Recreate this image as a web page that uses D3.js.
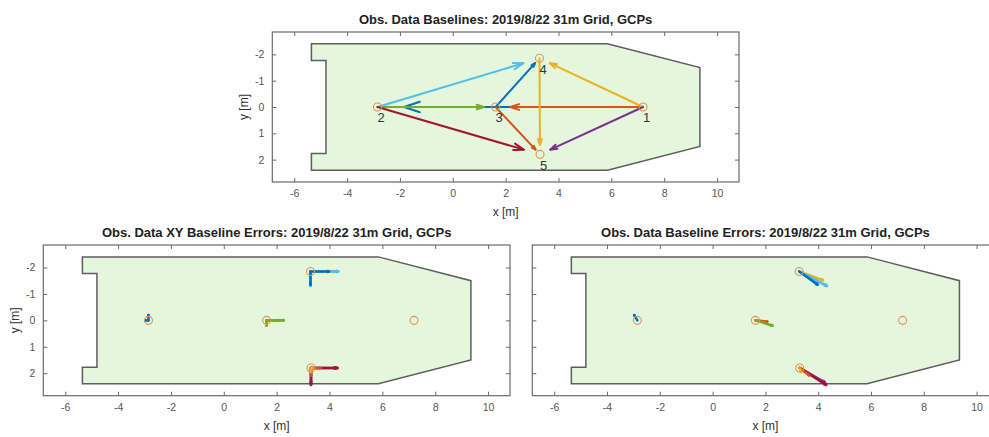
<!DOCTYPE html>
<html>
<head>
<meta charset="utf-8">
<script src="https://cdn.jsdelivr.net/npm/d3@7"></script>
<style>
  html, body { margin: 0; padding: 0; background: #fff; }
  svg { display: block; font-family: "Liberation Sans", Arial, sans-serif; }
</style>
</head>
<body>
<svg id="fig" width="989" height="437"></svg>
<script>
// Ground control points (metres)
const gcpIds = ["1", "2", "3", "4", "5"];
const gcpX = [7.2, -2.85, 1.62, 3.28, 3.3];
const gcpY = [0, 0, 0, -1.85, 1.8];

// Baselines between GCP pairs (1-based indices), drawn from -> to
const baseFrom = [1, 1, 1, 1, 2, 2, 2, 3, 3, 4];
const baseTo   = [2, 3, 4, 5, 3, 4, 5, 4, 5, 5];

// Baseline error vectors at the target GCP (plotted, metres)
const errX = [-0.12, 0.45, 0.9, 0.95, 0.65, 1.05, 1.0, 0.7, 0.35, 0.05];
const errY = [-0.2, 0.05, 0.33, 0.55, 0.2, 0.55, 0.64, 0.5, 0.28, 0.15];

// Survey grid outline
const gridX = [-5.35, 5.85, 9.35, 9.35, 5.85, -5.35, -5.35, -4.8, -4.8, -5.35, -5.35];
const gridY = [-2.4, -2.4, -1.5, 1.5, 2.4, 2.4, 1.77, 1.77, -1.77, -1.77, -2.4];

// Axis ticks
const xTicks = [-6, -4, -2, 0, 2, 4, 6, 8, 10];
const yTicks = [-2, -1, 0, 1, 2];

const titles = [
  "Obs. Data Baselines: 2019/8/22 31m Grid, GCPs",
  "Obs. Data XY Baseline Errors: 2019/8/22 31m Grid, GCPs",
  "Obs. Data Baseline Errors: 2019/8/22 31m Grid, GCPs"
];

const colorOrder = ["#0072BD", "#D95319", "#EDB120", "#7E2F8E", "#77AC30", "#4DBEEE", "#A2142F"];
const quiverScale = 0.9;

const svg = d3.select("#fig");

const panels = [
  { left: 272.3, right: 739, top: 32, bottom: 182, title: titles[0], yLabels: true, kind: "base" },
  { left: 43.3, right: 510, top: 245, bottom: 395.7, title: titles[1], yLabels: true, kind: "xy" },
  { left: 532.3, right: 998.5, top: 245, bottom: 395.7, title: titles[2], yLabels: false, kind: "err" }
];

function arrow(g, x, y, xs, ys, dx, dy, color, width) {
  const x1 = xs(x), y1 = ys(y), x2 = xs(x + dx), y2 = ys(y + dy);
  const vx = x2 - x1, vy = y2 - y1;
  const L = Math.hypot(vx, vy);
  if (L < 0.01) return;
  const a = 0.066, b = 0.33;
  const h1 = [x2 - a * (vx + b * vy), y2 - a * (vy - b * vx)];
  const h2 = [x2 - a * (vx - b * vy), y2 - a * (vy + b * vx)];
  g.append("line")
    .attr("x1", x1).attr("y1", y1).attr("x2", x2).attr("y2", y2)
    .attr("stroke", color).attr("stroke-width", width).attr("stroke-linecap", "round");
  g.append("path")
    .attr("d", `M${h1[0]},${h1[1]}L${x2},${y2}L${h2[0]},${h2[1]}`)
    .attr("fill", "none").attr("stroke", color).attr("stroke-width", width)
    .attr("stroke-linejoin", "round").attr("stroke-linecap", "round");
}

panels.forEach(p => {
  const xs = d3.scaleLinear().domain([-6.83, 10.83]).range([p.left, p.right]);
  const ys = d3.scaleLinear().domain([-2.85, 2.85]).range([p.top, p.bottom]);
  const g = svg.append("g");

  g.append("rect")
    .attr("x", p.left).attr("y", p.top)
    .attr("width", p.right - p.left).attr("height", p.bottom - p.top)
    .attr("fill", "#fff");

  // grid outline
  g.append("path")
    .attr("d", d3.line().x((d, i) => xs(gridX[i])).y((d, i) => ys(gridY[i]))(gridX) + "Z")
    .attr("fill", "#e4f6dc").attr("stroke", "#5e5e5e").attr("stroke-width", 1.5);

  const marks = g.append("g");
  if (p.kind === "base") {
    baseFrom.forEach((f, i) => {
      const t = baseTo[i];
      const x0 = gcpX[f - 1], y0 = gcpY[f - 1];
      const dx = (gcpX[t - 1] - x0) * quiverScale, dy = (gcpY[t - 1] - y0) * quiverScale;
      arrow(marks, x0, y0, xs, ys, dx, dy, colorOrder[i % 7], 2);
    });
  } else if (p.kind === "xy") {
    baseTo.forEach((t, i) => {
      const x0 = gcpX[t - 1], y0 = gcpY[t - 1];
      arrow(marks, x0, y0, xs, ys, errX[i], 0, colorOrder[i % 7], 2.6);
      arrow(marks, x0, y0, xs, ys, 0, errY[i], colorOrder[i % 7], 2.6);
    });
  } else {
    baseTo.forEach((t, i) => {
      const x0 = gcpX[t - 1], y0 = gcpY[t - 1];
      arrow(marks, x0, y0, xs, ys, errX[i], errY[i], colorOrder[i % 7], 2.6);
    });
  }

  // GCP markers
  g.append("g").selectAll("circle").data(gcpX).join("circle")
    .attr("cx", (d, i) => xs(gcpX[i])).attr("cy", (d, i) => ys(gcpY[i]))
    .attr("r", 4).attr("fill", "none").attr("stroke", "#e0915a").attr("stroke-width", 1.1);

  if (p.kind === "base") {
    g.append("g").selectAll("text").data(gcpIds).join("text")
      .attr("x", (d, i) => xs(gcpX[i])).attr("y", (d, i) => ys(gcpY[i] + 0.45))
      .attr("dominant-baseline", "middle")
      .attr("font-size", 13).attr("fill", "#333")
      .text(d => d);
  }

  // axes with inward ticks on all four sides
  const fmt = d => String(d);
  const axB = g.append("g").attr("transform", `translate(0,${p.bottom})`)
    .call(d3.axisBottom(xs).tickValues(xTicks).tickSizeInner(-4).tickSizeOuter(0).tickPadding(8).tickFormat(fmt));
  const axT = g.append("g").attr("transform", `translate(0,${p.top})`)
    .call(d3.axisTop(xs).tickValues(xTicks).tickSizeInner(-4).tickSizeOuter(0).tickFormat(""));
  const axL = g.append("g").attr("transform", `translate(${p.left},0)`)
    .call(d3.axisLeft(ys).tickValues(yTicks).tickSizeInner(-4).tickSizeOuter(0).tickPadding(8)
      .tickFormat(p.yLabels ? fmt : ""));
  const axR = g.append("g").attr("transform", `translate(${p.right},0)`)
    .call(d3.axisRight(ys).tickValues(yTicks).tickSizeInner(-4).tickSizeOuter(0).tickFormat(""));
  [axB, axT, axL, axR].forEach(a => {
    a.select(".domain").remove();
    a.selectAll(".tick line").attr("stroke", "#6a6a6a");
    a.selectAll(".tick text").attr("fill", "#555").attr("font-size", 10.5)
      .attr("font-family", "Liberation Sans, Arial, sans-serif");
  });

  g.append("rect")
    .attr("x", p.left).attr("y", p.top)
    .attr("width", p.right - p.left).attr("height", p.bottom - p.top)
    .attr("fill", "none").attr("stroke", "#6a6a6a").attr("stroke-width", 1.2);

  const cx = (p.left + p.right) / 2;
  g.append("text").attr("x", cx).attr("y", p.top - 8)
    .attr("text-anchor", "middle").attr("font-size", 13).attr("font-weight", "bold")
    .attr("fill", "#222").text(p.title);
  g.append("text").attr("x", cx).attr("y", p.bottom + 34)
    .attr("text-anchor", "middle").attr("font-size", 12).attr("fill", "#333").text("x [m]");
  if (p.yLabels) {
    const ly = (p.top + p.bottom) / 2;
    const lx = p.left - 24;
    g.append("text").attr("transform", `translate(${lx},${ly}) rotate(-90)`)
      .attr("text-anchor", "middle").attr("font-size", 12).attr("fill", "#333").text("y [m]");
  }
});
</script>
</body>
</html>
